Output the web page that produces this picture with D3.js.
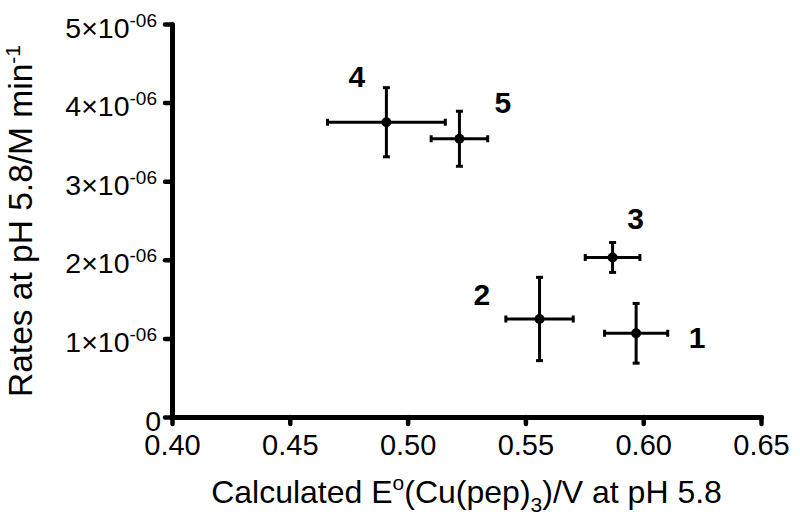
<!DOCTYPE html>
<html>
<head>
<meta charset="utf-8">
<script src="https://cdn.jsdelivr.net/npm/d3@7"></script>
<style>
body { margin: 0; background: #fff; }
svg { display: block; font-family: Arial, "Liberation Sans", sans-serif; }
.axis .domain { stroke: #000; stroke-width: 5; stroke-linecap: round; }
.axis .tick line { stroke: #000; stroke-width: 4.5; stroke-linecap: round; }
</style>
</head>
<body>
<svg width="800" height="523"></svg>
<script>
// data
var compounds = ["1", "2", "3", "4", "5"];
var potentials = [0.597, 0.556, 0.587, 0.491, 0.522];
var potentialErr = [0.0134, 0.0143, 0.0116, 0.025, 0.012];
var rates = [1.065e-6, 1.247e-6, 2.03e-6, 3.75e-6, 3.54e-6];
var rateErr = [0.38e-6, 0.53e-6, 0.19e-6, 0.44e-6, 0.35e-6];
var xTicks = [0.40, 0.45, 0.50, 0.55, 0.60, 0.65];
var yTicks = [0, 1e-6, 2e-6, 3e-6, 4e-6, 5e-6];

// where each number label sits relative to its point (px)
var labelDx = [61, -57.6, 23, -29.5, 43.5];
var labelDy = [15, -14, -28, -35, -26];

var svg = d3.select("svg"),
    margin = {top: 24, right: 39, bottom: 106, left: 172},
    width = +svg.attr("width") - margin.left - margin.right,
    height = +svg.attr("height") - margin.top - margin.bottom;

var xScale = d3.scaleLinear().domain([0.40, 0.65]).range([0, width]);
var yScale = d3.scaleLinear().domain([0, 5e-6]).range([height, 0]);

var g = svg.append("g")
    .attr("transform", "translate(" + margin.left + "," + margin.top + ")");

var data = compounds.map(function (c, i) {
    return {name: c, x: potentials[i], xe: potentialErr[i], y: rates[i], ye: rateErr[i],
            dx: labelDx[i], dy: labelDy[i]};
});

// X AXIS
var xAxisG = g.append("g")
    .attr("class", "axis")
    .attr("transform", "translate(0," + height + ")")
    .call(d3.axisBottom(xScale).tickValues(xTicks).tickSize(7).tickSizeOuter(0)
        .tickFormat(d3.format(".2f")));
xAxisG.selectAll(".tick text")
    .attr("y", 38)
    .attr("dy", null)
    .attr("fill", "#000")
    .style("font-size", "29px");

// Y AXIS
var yAxisG = g.append("g")
    .attr("class", "axis")
    .call(d3.axisLeft(yScale).tickValues(yTicks).tickSize(7).tickSizeOuter(0)
        .tickFormat(""));
yAxisG.selectAll(".tick text").remove();
yAxisG.selectAll(".tick").each(function (d) {
    var t = d3.select(this).append("text")
        .attr("x", -15)
        .attr("y", 13)
        .attr("text-anchor", "end")
        .attr("fill", "#000")
        .style("font-size", "28.5px");
    if (d === 0) {
        t.attr("x", -11).text("0");
    } else {
        t.append("tspan").text(Math.round(d / 1e-6) + "\u00d710");
        t.append("tspan")
            .attr("dy", -11)
            .style("font-size", "19px")
            .text("-06");
    }
});

// error bars
var capHalf = 3.5;
var bars = g.append("g").attr("class", "points")
    .selectAll("g")
    .data(data)
    .enter().append("g");

bars.append("line")
    .attr("x1", function (d) { return xScale(d.x - d.xe); })
    .attr("x2", function (d) { return xScale(d.x + d.xe); })
    .attr("y1", function (d) { return yScale(d.y); })
    .attr("y2", function (d) { return yScale(d.y); });
bars.append("line")
    .attr("x1", function (d) { return xScale(d.x); })
    .attr("x2", function (d) { return xScale(d.x); })
    .attr("y1", function (d) { return yScale(d.y - d.ye); })
    .attr("y2", function (d) { return yScale(d.y + d.ye); });
// caps
[-1, 1].forEach(function (s) {
    bars.append("line")
        .attr("x1", function (d) { return xScale(d.x + s * d.xe); })
        .attr("x2", function (d) { return xScale(d.x + s * d.xe); })
        .attr("y1", function (d) { return yScale(d.y) - capHalf; })
        .attr("y2", function (d) { return yScale(d.y) + capHalf; });
    bars.append("line")
        .attr("x1", function (d) { return xScale(d.x) - capHalf; })
        .attr("x2", function (d) { return xScale(d.x) + capHalf; })
        .attr("y1", function (d) { return yScale(d.y + s * d.ye); })
        .attr("y2", function (d) { return yScale(d.y + s * d.ye); });
});
bars.selectAll("line")
    .attr("stroke", "#000")
    .attr("stroke-width", 3);

bars.append("circle")
    .attr("cx", function (d) { return xScale(d.x); })
    .attr("cy", function (d) { return yScale(d.y); })
    .attr("r", 5)
    .attr("fill", "#000");

bars.append("text")
    .attr("x", function (d) { return xScale(d.x) + d.dx; })
    .attr("y", function (d) { return yScale(d.y) + d.dy; })
    .attr("text-anchor", "middle")
    .style("font-size", "30px")
    .style("font-weight", "bold")
    .text(function (d) { return d.name; });

// x axis title
var xt = svg.append("text")
    .attr("x", margin.left + width / 2)
    .attr("y", 503)
    .attr("text-anchor", "middle")
    .style("font-size", "32px");
xt.append("tspan").text("Calculated E");
xt.append("tspan").attr("dy", -13).style("font-size", "21px").text("o");
xt.append("tspan").attr("dy", 13).text("(Cu(pep)");
xt.append("tspan").attr("dy", 9).style("font-size", "21px").text("3");
xt.append("tspan").attr("dy", -9).text(")/V at pH 5.8");

// y axis title
var yt = svg.append("text")
    .attr("transform", "translate(32," + 221 + ") rotate(-90)")
    .attr("text-anchor", "middle")
    .style("font-size", "33.5px");
yt.append("tspan").text("Rates at pH 5.8/M min");
yt.append("tspan").attr("dy", -12).style("font-size", "21px").text("-1");
</script>
</body>
</html>
